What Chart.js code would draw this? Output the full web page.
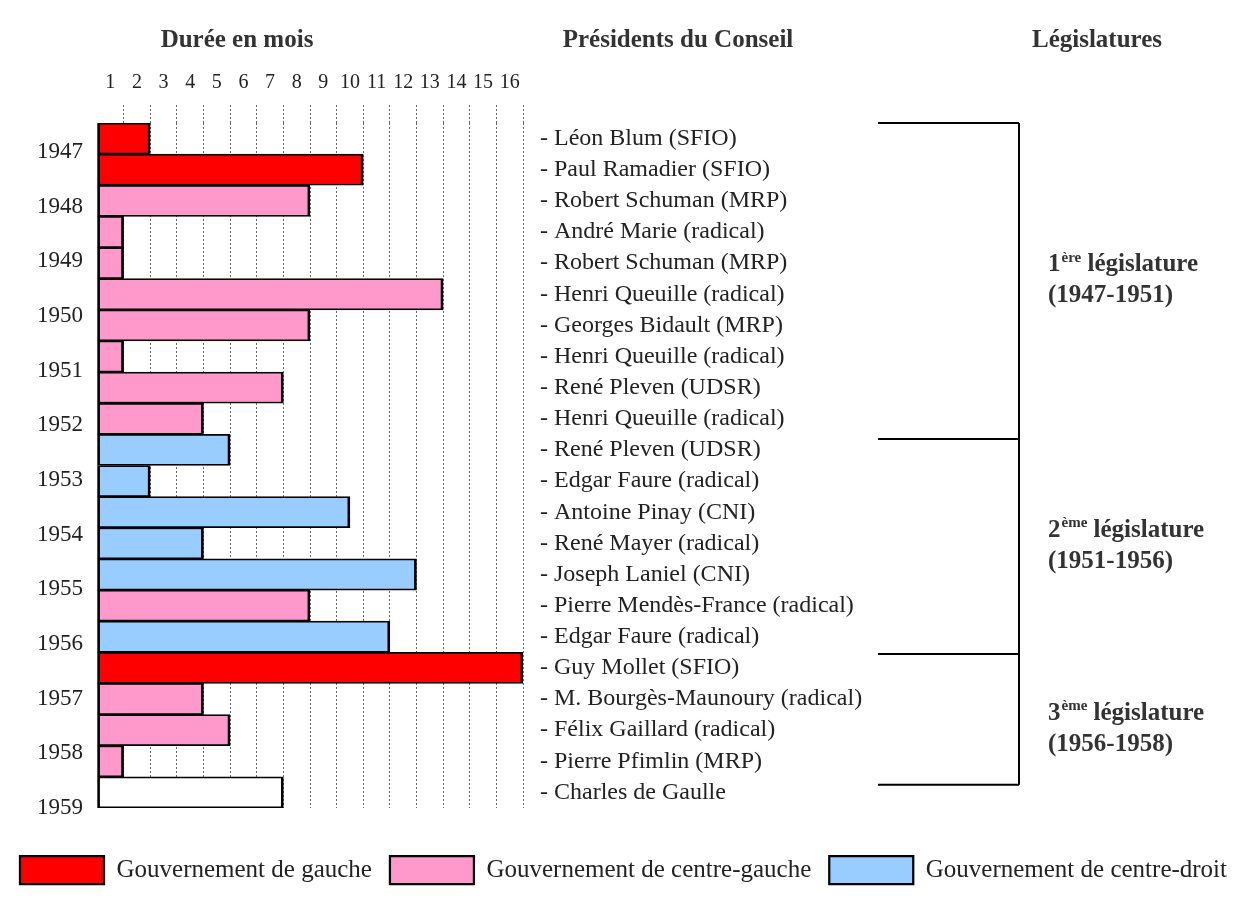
<!DOCTYPE html>
<html lang="fr">
<head>
<meta charset="utf-8">
<title>Présidents du Conseil 1947-1959</title>
<script src="https://cdn.jsdelivr.net/npm/chart.js@4.4.1/dist/chart.umd.min.js"></script>
<style>
  html, body { margin: 0; padding: 0; background: #fff; }
  #wrap { width: 1247px; height: 905px; }
</style>
</head>
<body>
<div id="wrap"><canvas id="chart" width="1247" height="905"></canvas></div>
<script>
// --- data ---
const presidents = [
  "- Léon Blum (SFIO)",
  "- Paul Ramadier (SFIO)",
  "- Robert Schuman (MRP)",
  "- André Marie (radical)",
  "- Robert Schuman (MRP)",
  "- Henri Queuille (radical)",
  "- Georges Bidault (MRP)",
  "- Henri Queuille (radical)",
  "- René Pleven (UDSR)",
  "- Henri Queuille (radical)",
  "- René Pleven (UDSR)",
  "- Edgar Faure (radical)",
  "- Antoine Pinay (CNI)",
  "- René Mayer (radical)",
  "- Joseph Laniel (CNI)",
  "- Pierre Mendès-France (radical)",
  "- Edgar Faure (radical)",
  "- Guy Mollet (SFIO)",
  "- M. Bourgès-Maunoury (radical)",
  "- Félix Gaillard (radical)",
  "- Pierre Pfimlin (MRP)",
  "- Charles de Gaulle"
];
// durée en mois
const durations = [2, 10, 8, 1, 1, 13, 8, 1, 7, 4, 5, 2, 9.5, 4, 12, 8, 11, 16, 4, 5, 1, 7];
// G = gauche, CG = centre-gauche, CD = centre-droit, X = autre
const camps = ["G", "G", "CG", "CG", "CG", "CG", "CG", "CG", "CG", "CG",
               "CD", "CD", "CD", "CD", "CD", "CG", "CD", "G", "CG", "CG", "CG", "X"];

const campKeys = ["G", "CG", "CD", "X"];
const campLabels = ["Gouvernement de gauche", "Gouvernement de centre-gauche",
                    "Gouvernement de centre-droit", "Autre"];

const years = [1947, 1948, 1949, 1950, 1951, 1952, 1953, 1954, 1955, 1956, 1957, 1958, 1959];
const monthTicks = ["1", "2", "3", "4", "5", "6", "7", "8", "9", "10", "11", "12", "13", "14", "15", "16"];

const headers = ["Durée en mois", "Présidents du Conseil", "Législatures"];

const legislatureNums = ["1", "2", "3"];
const legislatureSups = ["ère", "ème", "ème"];
const legislaturePeriods = ["(1947-1951)", "(1951-1956)", "(1956-1958)"];
// limites des législatures, en rangs de gouvernement
const legislatureStart = [-0.5, 9.65, 16.55];
const legislatureEnd = [9.65, 16.55, 20.75];

// --- styles ---
const SERIF = "'Liberation Serif', 'Times New Roman', serif";
const campColors = ["#ff0000", "#ff99cc", "#99ccff", "#ffffff"];
const headerX = [237, 678, 1097];

Chart.defaults.font.family = SERIF;
Chart.defaults.color = "#222";

const datasets = campKeys.map((key, k) => ({
  label: campLabels[k],
  data: durations.map((d, i) => (camps[i] === key ? d : null)),
  backgroundColor: campColors[k],
  borderColor: "#000",
  borderWidth: { top: 1.75, bottom: 1.75, left: 2.75, right: 2.75 },
  borderSkipped: false,
  categoryPercentage: 1,
  barPercentage: 1,
  xAxisID: "x",
  yAxisID: "y"
}));

// headers, legislature brackets and their labels
const decorations = {
  id: "decorations",
  afterDraw(chart) {
    const { ctx } = chart;
    const y = chart.scales.y;
    ctx.save();
    ctx.fillStyle = "#333";
    ctx.font = "bold 25px " + SERIF;
    ctx.textAlign = "center";
    ctx.textBaseline = "middle";
    headers.forEach((h, i) => ctx.fillText(h, headerX[i], 41));

    const xStart = 878, xBar = 1019, xText = 1048;
    ctx.strokeStyle = "#000";
    ctx.lineWidth = 2;
    const top0 = y.getPixelForValue(legislatureStart[0]);
    const bottomN = y.getPixelForValue(legislatureEnd[legislatureEnd.length - 1]);
    ctx.beginPath();
    ctx.moveTo(xBar, top0);
    ctx.lineTo(xBar, bottomN);
    legislatureStart.forEach((s) => {
      const t = y.getPixelForValue(s);
      ctx.moveTo(xStart, t);
      ctx.lineTo(xBar, t);
    });
    ctx.moveTo(xStart, bottomN);
    ctx.lineTo(xBar, bottomN);
    ctx.stroke();

    ctx.textAlign = "left";
    legislatureNums.forEach((n, i) => {
      const t = y.getPixelForValue(legislatureStart[i]);
      const b = y.getPixelForValue(legislatureEnd[i]);
      const mid = (t + b) / 2 + (i === 2 ? 10 : 0);
      let x = xText;
      ctx.font = "bold 25px " + SERIF;
      ctx.fillText(n, x, mid - 16);
      x += ctx.measureText(n).width;
      ctx.font = "bold 15px " + SERIF;
      ctx.fillText(legislatureSups[i], x + 1, mid - 23);
      x += ctx.measureText(legislatureSups[i]).width + 1;
      ctx.font = "bold 25px " + SERIF;
      ctx.fillText(" législature", x, mid - 16);
      ctx.fillText(legislaturePeriods[i], xText, mid + 15);
    });
    ctx.restore();
  }
};

new Chart(document.getElementById("chart"), {
  type: "bar",
  data: { labels: presidents, datasets: datasets },
  options: {
    indexAxis: "y",
    responsive: false,
    animation: false,
    layout: { padding: { top: 0, left: 0, right: 0, bottom: 11 } },
    scales: {
      x: {
        type: "linear",
        position: "top",
        min: 0,
        max: 16,
        stacked: true,
        weight: 0,
        ticks: { display: false, stepSize: 1 },
        grid: {
          color: (c) => (c.tick && c.tick.value === 0 ? "rgba(0,0,0,0)" : "#666"),
          lineWidth: 1,
          tickLength: 18,
          tickBorderDash: [2, 2]
        },
        border: { display: false, dash: [2, 2] },
        afterFit: (axis) => { axis.height = 18; }
      },
      x2: {
        type: "category",
        axis: "x",
        position: "top",
        labels: monthTicks,
        offset: true,
        weight: 1,
        grid: { display: false, drawTicks: false },
        border: { display: false },
        ticks: { padding: 10, color: "#222", font: { size: 20 }, autoSkip: false, maxRotation: 0 },
        afterFit: (axis) => { axis.height = 105; }
      },
      y: {
        type: "category",
        position: "right",
        stacked: true,
        offset: true,
        grid: { display: false, drawTicks: false },
        border: { display: false },
        ticks: { padding: 17, color: "#222", font: { size: 24 }, autoSkip: false },
        afterFit: (axis) => { axis.width = 724; }
      },
      y2: {
        type: "linear",
        axis: "y",
        position: "left",
        reverse: true,
        offset: false,
        min: 1946.47,
        max: 1959,
        grid: { display: false, drawTicks: false, offset: false },
        border: { display: false },
        afterBuildTicks: (axis) => { axis.ticks = years.map((v) => ({ value: v })); },
        ticks: { padding: 14, color: "#222", font: { size: 23 }, autoSkip: false, callback: (v) => String(v) },
        afterFit: (axis) => { axis.width = 97; }
      }
    },
    plugins: {
      legend: {
        position: "bottom",
        title: { display: true, text: "", padding: { top: 18, bottom: 0 }, font: { size: 10 } },
        labels: {
          boxWidth: 84,
          boxHeight: 28,
          padding: 18,
          color: "#222",
          font: { size: 25 },
          filter: (item) => item.datasetIndex < 3
        }
      },
      tooltip: { enabled: false }
    }
  },
  plugins: [decorations]
});
</script>
</body>
</html>
